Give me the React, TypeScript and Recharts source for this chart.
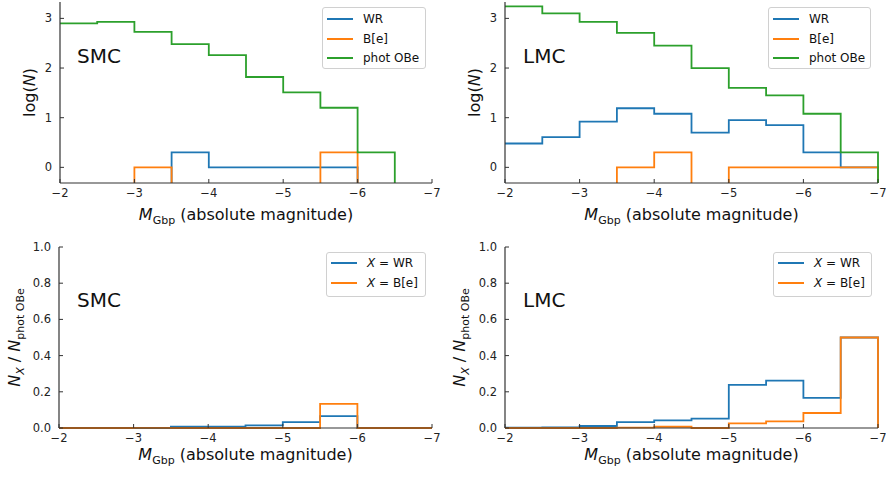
import { LineChart, Line, XAxis, YAxis, Label } from 'recharts'

// bin edges of the M_Gbp histograms (0.5 mag bins, bright end to the right)
const binEdges = [-2, -2.5, -3, -3.5, -4, -4.5, -5, -5.5, -6, -6.5, -7]
const xTicks = [-2, -3, -4, -5, -6, -7]
const logTicks = [0, 1, 2, 3]
const fracTicks = [0, 0.2, 0.4, 0.6, 0.8, 1.0]

// log(N) per bin, null = empty bin
const smcWRLog = [null, null, null, 0.3, 0, 0, 0, 0, null, null]
const smcBeLog = [null, null, 0, null, null, null, null, 0.3, null, null]
const smcOBeLog = [2.9, 2.93, 2.73, 2.48, 2.26, 1.82, 1.51, 1.2, 0.3, null]

const lmcWRLog = [0.48, 0.61, 0.92, 1.19, 1.08, 0.7, 0.95, 0.85, 0.3, 0]
const lmcBeLog = [null, null, null, 0, 0.3, null, 0, 0, 0, 0]
const lmcOBeLog = [3.24, 3.1, 2.93, 2.71, 2.45, 2.0, 1.6, 1.45, 1.08, 0.3]

// N_X / N_phot OBe per bin
const smcWRFrac = [0, 0, 0, 0.007, 0.007, 0.015, 0.033, 0.066, 0, 0]
const smcBeFrac = [0, 0, 0.001, 0, 0, 0, 0, 0.133, 0, 0]

const lmcWRFrac = [0.002, 0.003, 0.011, 0.033, 0.042, 0.052, 0.238, 0.262, 0.166, 0.5]
const lmcBeFrac = [0, 0, 0, 0.002, 0.007, 0, 0.026, 0.037, 0.083, 0.5]

const WR_COLOR = '#1f77b4'
const BE_COLOR = '#ff7f0e'
const OBE_COLOR = '#2ca02c'
const AXIS = '#333'
const FONT = 'DejaVu Sans, sans-serif'

const LOG_FLOOR = -1 // empty bins fall below the visible range

function stepRows(series: Record<string, (number | null)[]>, floor: number) {
  return binEdges.map((x, i) => {
    const row: any = { x }
    for (const k in series) {
      const v = i < series[k].length ? series[k][i] : null
      row[k] = v == null ? floor : v
    }
    return row
  })
}

const minus = (v: number) => (v < 0 ? '\u2212' + Math.abs(v) : String(v))

const XTitle = (dy: number) => (props: any) => {
  const vb = props.viewBox || {}
  const cx = vb.x + vb.width / 2
  return (
    <text x={cx} y={vb.y + dy} textAnchor="middle" fontSize={16} fill="#111" fontFamily={FONT}>
      <tspan fontStyle="italic">M</tspan>
      <tspan fontSize={11} dy={4}>Gbp</tspan>
      <tspan dy={-4}>{' (absolute magnitude)'}</tspan>
    </text>
  )
}

const YTitle = (kind: 'log' | 'frac', gap: number) => (props: any) => {
  const vb = props.viewBox || {}
  const x = vb.x + vb.width - gap
  const y = vb.y + vb.height / 2
  return (
    <text x={x} y={y} transform={`rotate(-90, ${x}, ${y})`} textAnchor="middle" fontSize={16} fill="#111" fontFamily={FONT}>
      {kind === 'log' ? (
        <>
          <tspan>log(</tspan>
          <tspan fontStyle="italic">N</tspan>
          <tspan>)</tspan>
        </>
      ) : (
        <>
          <tspan fontStyle="italic">N</tspan>
          <tspan fontStyle="italic" fontSize={11} dy={4}>X</tspan>
          <tspan dy={-4}>{' / '}</tspan>
          <tspan fontStyle="italic">N</tspan>
          <tspan fontSize={11} dy={4}>phot OBe</tspan>
        </>
      )}
    </text>
  )
}

type Item = { key: string; color: string; label: any }

function Panel(p: {
  left: number
  top: number
  margin: { top: number; right: number; bottom: number; left: number }
  yWidth: number
  data: any[]
  items: Item[]
  yDomain: [number, number]
  yTicks: number[]
  yFmt: (v: number) => string
  clip: boolean
  kind: 'log' | 'frac'
  yGap: number
  xDy: number
  region: string
  regionPos: { x: number; y: number }
  legend: { x: number; y: number; w: number; h: number; rows: number[] }
}) {
  const tickStyle = { fontSize: 11.5, fill: '#222', fontFamily: FONT }
  return (
    <div style={{ position: 'absolute', left: p.left, top: p.top, width: 443, height: 240 }}>
      <LineChart width={443} height={240} data={p.data} margin={p.margin}>
        <XAxis
          dataKey="x"
          type="number"
          domain={[-7, -2]}
          reversed
          ticks={xTicks}
          tickFormatter={minus}
          height={40}
          tickSize={-4}
          tickMargin={10}
          tick={tickStyle}
          axisLine={{ stroke: AXIS, strokeWidth: 1.2 }}
          tickLine={{ stroke: AXIS }}
        >
          <Label content={XTitle(p.xDy)} />
        </XAxis>
        <XAxis
          xAxisId="top"
          orientation="top"
          dataKey="x"
          type="number"
          domain={[-7, -2]}
          reversed
          ticks={xTicks}
          height={0}
          tickSize={-4}
          tick={false}
          axisLine={{ stroke: AXIS, strokeWidth: 1.2 }}
          tickLine={{ stroke: AXIS }}
        />
        <YAxis
          type="number"
          domain={p.yDomain}
          allowDataOverflow={p.clip}
          ticks={p.yTicks}
          tickFormatter={p.yFmt}
          width={p.yWidth}
          tickSize={-4}
          tickMargin={12}
          tick={tickStyle}
          axisLine={{ stroke: AXIS, strokeWidth: 1.2 }}
          tickLine={{ stroke: AXIS }}
        >
          <Label content={YTitle(p.kind, p.yGap)} />
        </YAxis>
        <YAxis
          yAxisId="right"
          orientation="right"
          type="number"
          domain={p.yDomain}
          allowDataOverflow={p.clip}
          ticks={p.yTicks}
          width={0}
          tickSize={-4}
          tick={false}
          axisLine={{ stroke: AXIS, strokeWidth: 1.2 }}
          tickLine={{ stroke: AXIS }}
        />
        {p.items.map((it) => (
          <Line
            key={it.key}
            dataKey={it.key}
            type="stepAfter"
            stroke={it.color}
            strokeWidth={1.8}
            dot={false}
            activeDot={false}
            isAnimationActive={false}
          />
        ))}
      </LineChart>
      <div
        style={{
          position: 'absolute',
          left: p.regionPos.x,
          top: p.regionPos.y - 10,
          fontFamily: FONT,
          fontSize: 20,
          lineHeight: '20px',
          color: '#111',
        }}
      >
        {p.region}
      </div>
      <div
        style={{
          position: 'absolute',
          left: p.legend.x,
          top: p.legend.y,
          width: p.legend.w,
          height: p.legend.h,
          boxSizing: 'border-box',
          border: '1px solid #d0d0d0',
          borderRadius: 3,
          background: 'rgba(255,255,255,0.8)',
          fontFamily: FONT,
          fontSize: 12,
          color: '#111',
        }}
      >
        {p.items.map((it, i) => (
          <div key={it.key} style={{ position: 'absolute', left: 0, top: p.legend.rows[i] - 10, height: 20, width: '100%' }}>
            <div style={{ position: 'absolute', left: 4, top: 9, width: 26, height: 2, background: it.color }} />
            <div style={{ position: 'absolute', left: 40, top: 0, lineHeight: '20px', whiteSpace: 'nowrap' }}>{it.label}</div>
          </div>
        ))}
      </div>
    </div>
  )
}

const logItems: Item[] = [
  { key: 'wr', color: WR_COLOR, label: 'WR' },
  { key: 'be', color: BE_COLOR, label: 'B[e]' },
  { key: 'obe', color: OBE_COLOR, label: 'phot OBe' },
]
const fracItems: Item[] = [
  { key: 'wr', color: WR_COLOR, label: <><i>X</i> = WR</> },
  { key: 'be', color: BE_COLOR, label: <><i>X</i> = B[e]</> },
]

export default function App() {
  const smcLog = stepRows({ wr: smcWRLog, be: smcBeLog, obe: smcOBeLog }, LOG_FLOOR)
  const lmcLog = stepRows({ wr: lmcWRLog, be: lmcBeLog, obe: lmcOBeLog }, LOG_FLOOR)
  const smcFrac = stepRows({ wr: smcWRFrac, be: smcBeFrac }, 0)
  const lmcFrac = stepRows({ wr: lmcWRFrac, be: lmcBeFrac }, 0)
  const logDomain: [number, number] = [-0.315, 3.33]
  const fmtInt = (v: number) => String(v)
  const fmtFrac = (v: number) => v.toFixed(1)

  return (
    <div style={{ position: 'absolute', left: 0, top: 0, width: 886, height: 477, background: '#fff' }}>
      <Panel
        left={0}
        top={0}
        margin={{ top: 2, right: 11, bottom: 17, left: 10 }}
        yWidth={50}
        data={smcLog}
        items={logItems}
        yDomain={logDomain}
        yTicks={logTicks}
        yFmt={fmtInt}
        clip
        kind="log"
        yGap={25}
        xDy={37}
        region="SMC"
        regionPos={{ x: 77, y: 56 }}
        legend={{ x: 322, y: 7, w: 104, h: 62, rows: [11, 30.5, 50] }}
      />
      <Panel
        left={443}
        top={0}
        margin={{ top: 2, right: 8, bottom: 17, left: 10 }}
        yWidth={52}
        data={lmcLog}
        items={logItems}
        yDomain={logDomain}
        yTicks={logTicks}
        yFmt={fmtInt}
        clip
        kind="log"
        yGap={25}
        xDy={37}
        region="LMC"
        regionPos={{ x: 80, y: 56 }}
        legend={{ x: 325, y: 7, w: 103, h: 62, rows: [11, 30.5, 50] }}
      />
      <Panel
        left={0}
        top={237}
        margin={{ top: 10, right: 11, bottom: 9, left: 10 }}
        yWidth={49}
        data={smcFrac}
        items={fracItems}
        yDomain={[0, 1]}
        yTicks={fracTicks}
        yFmt={fmtFrac}
        clip={false}
        kind="frac"
        yGap={39}
        xDy={32}
        region="SMC"
        regionPos={{ x: 77, y: 63 }}
        legend={{ x: 326, y: 15, w: 100, h: 45, rows: [10, 30] }}
      />
      <Panel
        left={443}
        top={237}
        margin={{ top: 10, right: 8, bottom: 9, left: 10 }}
        yWidth={52}
        data={lmcFrac}
        items={fracItems}
        yDomain={[0, 1]}
        yTicks={fracTicks}
        yFmt={fmtFrac}
        clip={false}
        kind="frac"
        yGap={40}
        xDy={32}
        region="LMC"
        regionPos={{ x: 80, y: 63 }}
        legend={{ x: 330, y: 15, w: 99, h: 45, rows: [10, 30] }}
      />
    </div>
  )
}
